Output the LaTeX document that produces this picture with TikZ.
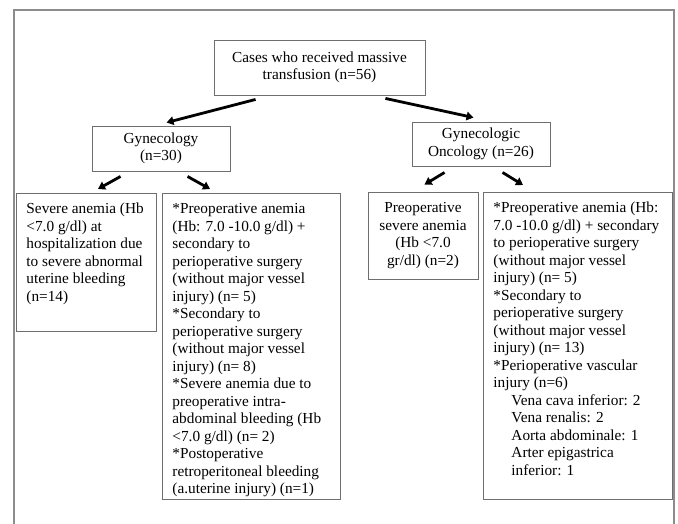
\documentclass[tikz,border=0pt]{standalone}
\usepackage{fontspec}
\setmainfont{Liberation Serif}
\usetikzlibrary{arrows.meta,calc}
\hfuzz=60pt
\vfuzz=60pt
\hbadness=10000
\vbadness=10000
\definecolor{boxgray}{HTML}{6E6E6E}
\definecolor{framegray}{HTML}{8C8C8C}
\begin{document}
\begin{tikzpicture}[x=1pt,y=-1pt,
  every node/.style={font=\fontsize{15.3}{17.5}\selectfont},
  cbox/.style={draw=boxgray,line width=0.9pt,align=center,inner sep=2pt},
  tbox/.style={draw=boxgray,line width=0.9pt,anchor=north west,inner xsep=10pt,inner ysep=8pt},
  arr/.style={line width=2.8pt,-{Triangle[length=7pt,width=8.5pt]}}]
\useasboundingbox (0,0) rectangle (678,524);
\draw[framegray,line width=1.6pt] (14,524) -- (14,10) -- (674,10) -- (674,524);

\node[cbox,minimum width=211pt,minimum height=55pt] (top) at (319.5,67.5)
  {Cases who received massive\\transfusion (n=56)};
\node[cbox,minimum width=138pt,minimum height=45pt] (gyn) at (161,148.5)
  {Gynecology\\(n=30)};
\node[cbox,minimum width=138pt,minimum height=44pt] (onc) at (481,144)
  {Gynecologic\\Oncology (n=26)};
\node[cbox,minimum width=110pt,minimum height=87pt] (pre) at (423,235.5)
  {Preoperative\\severe anemia\\(Hb <7.0\\gr/dl) (n=2)};

\node[tbox] (sev) at (16,193) {\parbox[t][122pt][t]{120pt}{\raggedright\strut
Severe anemia (Hb\\
<7.0 g/dl) at\\
hospitalization due\\
to severe abnormal\\
uterine bleeding\\
(n=14)}};

\node[tbox] (gynlist) at (162,193) {\parbox[t][290pt][t]{158pt}{\raggedright\strut
{*}Preoperative anemia\\
(Hb: 7.0 -10.0 g/dl) +\\
secondary to\\
perioperative surgery\\
(without major vessel\\
injury) (n= 5)\\
{*}Secondary to\\
perioperative surgery\\
(without major vessel\\
injury) (n= 8)\\
{*}Severe anemia due to\\
preoperative intra-\\
abdominal bleeding (Hb\\
<7.0 g/dl) (n= 2)\\
{*}Postoperative\\
retroperitoneal bleeding\\
(a.uterine injury) (n=1)}};

\node[tbox] (onclist) at (483,192) {\parbox[t][291pt][t]{169pt}{\raggedright\strut
{*}Preoperative anemia (Hb:\\
7.0 -10.0 g/dl) + secondary\\
to perioperative surgery\\
(without major vessel\\
injury) (n= 5)\\
{*}Secondary to\\
perioperative surgery\\
(without major vessel\\
injury) (n= 13)\\
{*}Perioperative vascular\\
injury (n=6)\\
\hspace*{18pt}Vena cava inferior: 2\\
\hspace*{18pt}Vena renalis: 2\\
\hspace*{18pt}Aorta abdominale: 1\\
\hspace*{18pt}Arter epigastrica\\
\hspace*{18pt}inferior: 1}};

\draw[arr] ($(top.south west)+(42pt,-4pt)$) -- ($(gyn.north west)+(75pt,3pt)$);
\draw[arr] ($(top.south east)+(-40pt,-3pt)$) -- ($(onc.north west)+(62pt,4pt)$);
\draw[arr] ($(gyn.south west)+(29pt,-5pt)$) -- ($(sev.north west)+(82pt,4pt)$);
\draw[arr] ($(gyn.south west)+(96pt,-5pt)$) -- ($(gynlist.north west)+(48pt,4pt)$);
\draw[arr] ($(onc.south west)+(33pt,-6pt)$) -- ($(pre.north west)+(57pt,7pt)$);
\draw[arr] ($(onc.south west)+(91pt,-6pt)$) -- ($(onclist.north west)+(40pt,7pt)$);
\end{tikzpicture}
\end{document}
